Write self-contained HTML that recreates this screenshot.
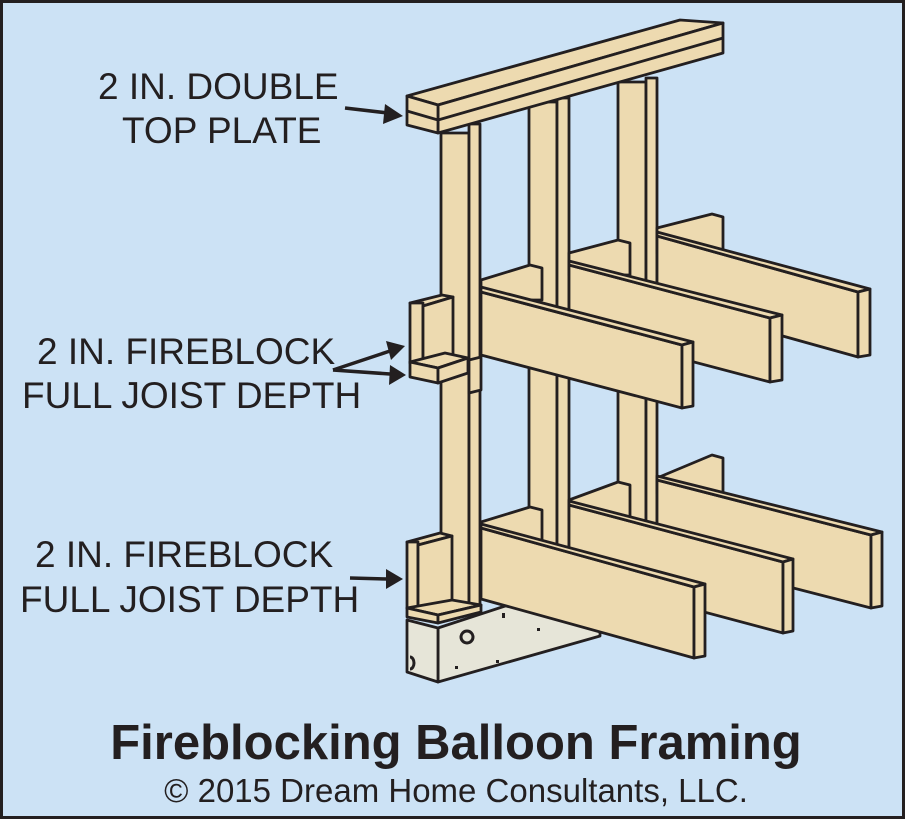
<!DOCTYPE html><html><head><style>
body{margin:0;width:905px;height:819px;overflow:hidden;background:#fff}
</style></head><body>
<svg width="905" height="819" viewBox="0 0 905 819" xmlns="http://www.w3.org/2000/svg" font-family="Liberation Sans, sans-serif">
<rect x="1.5" y="1.5" width="902" height="816" fill="#cce2f5" stroke="#231f20" stroke-width="3"/>
<g fill="#eddab0" stroke="#231f20" stroke-width="2.8" stroke-linejoin="round">
<!-- stud 3 -->
<rect x="618" y="82" width="28" height="445"/><rect x="646" y="78" width="11" height="449"/>
<!-- upper wall board 3 + joist 3 -->
<polygon points="657,228 712,214 723,217 723,253 657,253"/>
<polygon points="657,236 858,292 858,357 657,301"/>
<polygon points="657,232 870,289 858,292 657,236"/>
<polygon points="858,292 870,289 870,355 858,357"/>
<!-- lower wall board 3 + joist 3 -->
<polygon points="657,478 712,455 723,458 723,493 657,493"/>
<polygon points="657,480 871,535 871,608 657,553"/>
<polygon points="657,476 882,532 871,535 657,480"/>
<polygon points="871,535 882,532 882,606 871,608"/>
<!-- stud 2 -->
<rect x="529" y="102" width="28" height="446"/><rect x="557" y="98" width="12" height="450"/>
<!-- upper board 2 + joist 2 -->
<polygon points="569,253 618,240 630,243 630,275 569,275"/>
<polygon points="569,265 770,318 770,382 569,329"/>
<polygon points="569,261 782,315 770,318 569,265"/>
<polygon points="770,318 782,315 782,380 770,382"/>
<!-- lower board 2 + joist 2 -->
<polygon points="569,500 618,482 630,485 630,520 569,520"/>
<polygon points="569,505 783,562 783,633 569,576"/>
<polygon points="569,501 793,559 783,562 569,505"/>
<polygon points="783,562 793,559 793,631 783,633"/>
<!-- concrete -->
<polygon points="438,628 600,575 600,636 438,682" fill="#e6e5d8"/>
<polygon points="407,620 438,628 438,682 407,672" fill="#e6e5d8"/>
<!-- upper board 1 + joist 1 -->
<polygon points="481,280 530,265 542,268 542,300 481,300"/>
<polygon points="481,292 682,345 682,408 481,355"/>
<polygon points="481,287 693,342 682,345 481,292"/>
<polygon points="682,345 693,342 693,406 682,408"/>
<!-- lower board 1 + joist 1 -->
<polygon points="481,522 530,507 542,510 542,545 481,545"/>
<polygon points="481,528 694,587 694,658 481,599"/>
<polygon points="481,524 705,584 694,587 481,528"/>
<polygon points="694,587 705,584 705,656 694,658"/>
<!-- stud 1 -->
<rect x="441" y="133" width="28" height="479"/><rect x="469" y="124" width="11" height="482"/>
<!-- upper fireblock -->
<polygon points="410,303 442,295 453,297 423,306"/>
<rect x="410" y="303" width="13" height="60"/><polygon points="423,306 453,297 453,357 423,363"/>
<polygon points="410,362 445,353 468,358 438,368"/>
<polygon points="410,362 438,368 438,383 410,377"/><polygon points="438,368 468,358 468,373 438,383"/>
<polygon points="469,360 481,357 481,390 469,393"/>
<!-- lower fireblock -->
<polygon points="407,542 440,533 452,536 418,545"/>
<rect x="407" y="542" width="11" height="66"/><polygon points="418,545 452,536 452,602 418,608"/>
<polygon points="407,608 452,600 481,605 438,615"/>
<polygon points="407,608 438,615 438,623 407,617"/><polygon points="438,615 481,605 481,612 438,623"/>
<!-- top plate -->
<polygon points="407,96 680,20 723,23 438,105"/>
<polygon points="438,105 723,23 723,53 438,133"/>
<polygon points="407,96 438,105 438,133 407,125"/>
<polyline points="407,111 438,120 723,38" fill="none"/>
</g>
<g fill="#231f20">
<circle cx="467" cy="637" r="6" fill="none" stroke="#231f20" stroke-width="3"/>
<rect x="502" y="613" width="3" height="5"/><rect x="537" y="628" width="3" height="3"/><rect x="455" y="666" width="3" height="3"/><rect x="496" y="660" width="3" height="3"/>
<path d="M410,657 a4,6 0 1,1 0,12" fill="none" stroke="#231f20" stroke-width="3"/>
</g>
<g font-size="37" fill="#231f20">
<text x="98" y="99">2 IN. DOUBLE</text>
<text x="122" y="143">TOP PLATE</text>
<text x="37" y="364">2 IN. FIREBLOCK</text>
<text x="22" y="408">FULL JOIST DEPTH</text>
<text x="35" y="567">2 IN. FIREBLOCK</text>
<text x="20" y="612">FULL JOIST DEPTH</text>
</g>
<g stroke="#231f20" stroke-width="3.5" fill="#231f20">
<line x1="345" y1="108" x2="388" y2="113"/><polygon points="403,116 385,104 383,124" stroke="none"/>
<line x1="333" y1="370" x2="390" y2="351"/><polygon points="405,346 386,341 391,360" stroke="none"/>
<line x1="333" y1="370" x2="390" y2="374"/><polygon points="406,375 390,365 389,385" stroke="none"/>
<line x1="350" y1="578" x2="388" y2="579"/><polygon points="403,579 386,569 386,589" stroke="none"/>
</g>
<text x="456" y="759" font-size="49" font-weight="bold" text-anchor="middle" fill="#231f20">Fireblocking Balloon Framing</text>
<text x="456" y="802" font-size="33" text-anchor="middle" fill="#231f20">© 2015 Dream Home Consultants, LLC.</text>
</svg>
</body></html>
